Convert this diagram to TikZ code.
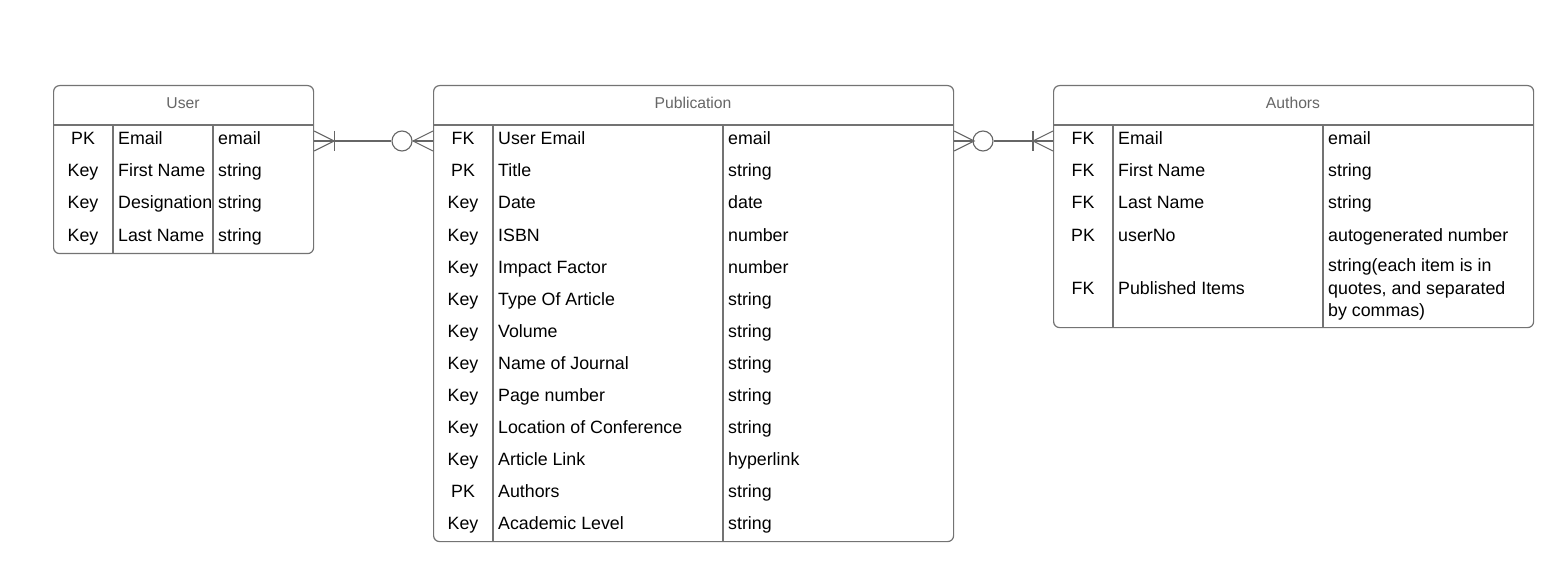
\documentclass[tikz,border=0pt]{standalone}
\usepackage{fontspec}
\setmainfont{Liberation Sans}
\usetikzlibrary{calc}
\begin{document}
\begin{tikzpicture}[x=1pt,y=-1pt,
  line/.style={draw=black!55, line width=1.2pt},
  tbl/.style={line, rounded corners=6pt, rectangle, inner sep=0pt, anchor=north west},
  hdr/.style={text=black!60, font=\fontsize{15.7}{18}\selectfont, anchor=center},
  cell/.style={font=\fontsize{17.8}{22}\selectfont, inner sep=0pt, anchor=base west},
  keyc/.style={font=\fontsize{17.8}{22}\selectfont, inner sep=0pt, anchor=base},
  conn/.style={draw=black!60, line width=1.1pt},
  ring/.style={circle, draw=black!60, line width=1.1pt, minimum size=20pt, inner sep=0pt}
]
\useasboundingbox (0,0) rectangle (1553,588);
\fill[white] (0,0) rectangle (1553,588);

% ---------- User ----------
\node[tbl, minimum width=260pt, minimum height=168pt] (user) at (53,85) {};
\node[hdr] (userh) at (183,103) {User};
\draw[line] (53,125) -- (313,125);
\draw[line] (113,125) -- (113,253);
\draw[line] (213,125) -- (213,253);
\foreach \k/\n/\t [count=\i from 0] in {PK/Email/email, Key/First Name/string, Key/Designation/string, Key/Last Name/string}{
  \node[keyc] (uk\i) at (83,145+32*\i) {\k};
  \node[cell] (un\i) at (118,145+32*\i) {\n};
  \node[cell] (ut\i) at (218,145+32*\i) {\t};
}

% ---------- Publication ----------
\node[tbl, minimum width=520pt, minimum height=456pt] (pub) at (433,85) {};
\node[hdr] (pubh) at (693,103) {Publication};
\draw[line] (433,125) -- (953,125);
\draw[line] (493,125) -- (493,541);
\draw[line] (723,125) -- (723,541);
\foreach \k/\n/\t [count=\i from 0] in {FK/User Email/email, PK/Title/string, Key/Date/date, Key/ISBN/number, Key/Impact Factor/number, Key/Type Of Article/string, Key/Volume/string, Key/Name of Journal/string, Key/Page number/string, Key/Location of Conference/string, Key/Article Link/hyperlink, PK/Authors/string, Key/Academic Level/string}{
  \node[keyc] (pk\i) at (463,145+32*\i) {\k};
  \node[cell] (pn\i) at (498,145+32*\i) {\n};
  \node[cell] (pt\i) at (728,145+32*\i) {\t};
}

% ---------- Authors ----------
\node[tbl, minimum width=480pt, minimum height=242pt] (auth) at (1053,85) {};
\node[hdr] (authh) at (1293,103) {Authors};
\draw[line] (1053,125) -- (1533,125);
\draw[line] (1113,125) -- (1113,327);
\draw[line] (1323,125) -- (1323,327);
\foreach \k/\n/\t [count=\i from 0] in {FK/Email/email, FK/First Name/string, FK/Last Name/string, PK/userNo/autogenerated number}{
  \node[keyc] (ak\i) at (1083,145+32*\i) {\k};
  \node[cell] (an\i) at (1118,145+32*\i) {\n};
  \node[cell] (at\i) at (1328,145+32*\i) {\t};
}
\node[keyc] (ak4) at (1083,294) {FK};
\node[cell] (an4) at (1118,294) {Published Items};
\node[cell] (at4a) at (1328,272) {string(each item is in};
\node[cell] (at4b) at (1328,294) {quotes, and separated};
\node[cell] (at4c) at (1328,316) {by commas)};

% ---------- Connector User -- Publication ----------
\node[ring] (c1) at (402,141) {};
\coordinate (ue) at (user.east |- c1);
\coordinate (pw) at (pub.west |- c1);
\draw[conn] (ue) -- (c1.west);
\draw[conn] ($(ue)+(0,-10)$) -- ($(ue)+(20,0)$) -- ($(ue)+(0,10)$);
\draw[conn] ($(ue)+(20,-10)$) -- ($(ue)+(20,10)$);
\draw[conn] (c1.east) -- (pw);
\draw[conn] ($(pw)+(0,-10)$) -- ($(pw)+(-20,0)$) -- ($(pw)+(0,10)$);

% ---------- Connector Publication -- Authors ----------
\node[ring] (c2) at (983,141) {};
\coordinate (pe) at (pub.east |- c2);
\coordinate (aw) at (auth.west |- c2);
\draw[conn] (pe) -- (c2.west);
\draw[conn] ($(pe)+(0,-10)$) -- ($(pe)+(20,0)$) -- ($(pe)+(0,10)$);
\draw[conn] (c2.east) -- (aw);
\draw[conn] ($(aw)+(0,-10)$) -- ($(aw)+(-20,0)$) -- ($(aw)+(0,10)$);
\draw[conn] ($(aw)+(-20,-10)$) -- ($(aw)+(-20,10)$);
\end{tikzpicture}
\end{document}
